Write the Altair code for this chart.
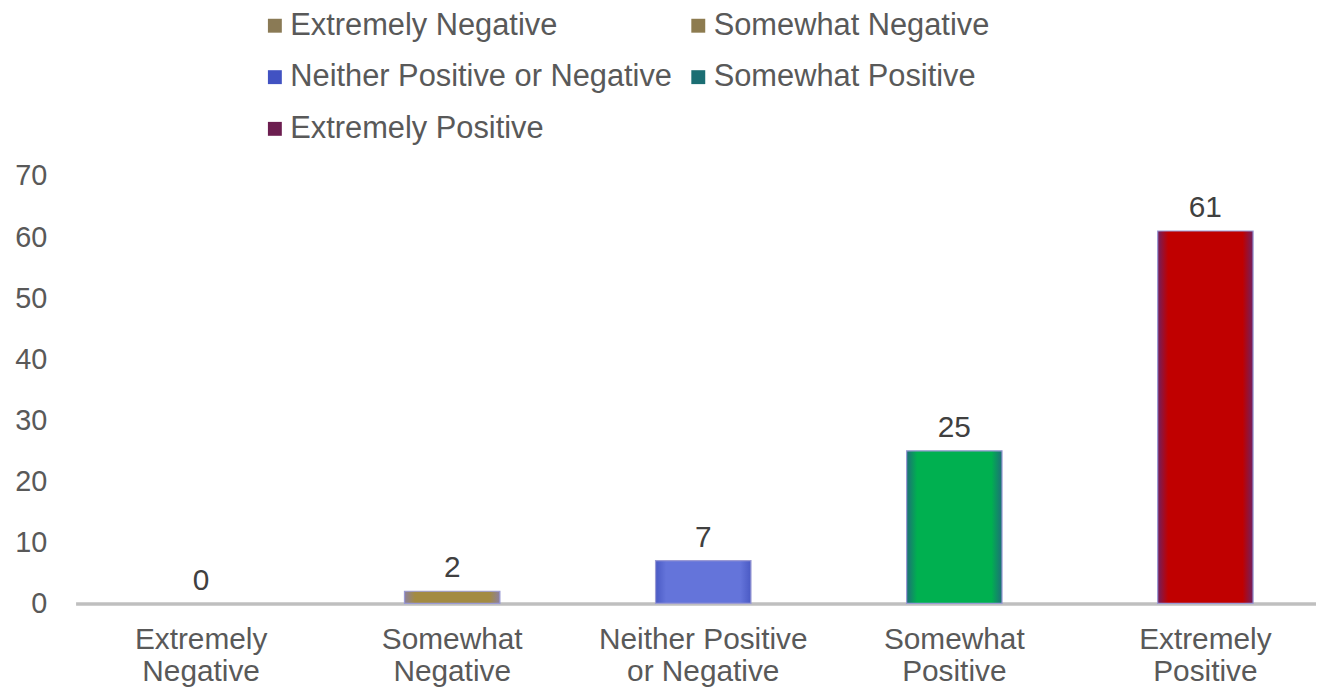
import altair as alt
import pandas as pd

categories = ["Extremely Negative", "Somewhat Negative", "Neither Positive or Negative",
              "Somewhat Positive", "Extremely Positive"]
axis_labels = ["Extremely|Negative", "Somewhat|Negative", "Neither Positive|or Negative",
               "Somewhat|Positive", "Extremely|Positive"]
values = [0, 2, 7, 25, 61]
bar_colors = ["#A38B42", "#A38B42", "#6474DA", "#00B050", "#C00000"]
legend_colors = ["#8A7A55", "#8D7B4F", "#4152C2", "#1B6E73", "#6C1E50"]
edge_colors = ["#8C80A0", "#8C80A0", "#4A5AC4", "#1E6E78", "#702060"]

df = pd.DataFrame({
    "category": categories,
    "xlabel": axis_labels,
    "value": values,
})

FONT = "Liberation Sans"
TXT = "#595959"

x_enc = alt.X("xlabel:N", sort=None, title=None,
              scale=alt.Scale(range=[0, 1263], paddingInner=0, paddingOuter=0),
              axis=alt.Axis(labelExpr="split(datum.label, '|')", labelAngle=0,
                            labelFontSize=30, labelFont=FONT, labelColor=TXT,
                            labelLineHeight=33, labelPadding=21, labelLimit=500,
                            ticks=False, domainColor="#BFBFBF", domainWidth=3.5,
                            grid=False))
y_enc = alt.Y("value:Q", title=None,
              scale=alt.Scale(domain=[0, 70], nice=False),
              axis=alt.Axis(values=[0, 10, 20, 30, 40, 50, 60, 70], labelFontSize=29,
                            labelFont=FONT, labelColor=TXT, labelPadding=29,
                            ticks=False, domain=False, grid=False))

base = alt.Chart(df)

bar_layers = []
for cat, c_center, c_edge in zip(categories, bar_colors, edge_colors):
    grad = alt.LinearGradient(
        gradient="linear", x1=0, y1=0, x2=1, y2=0,
        stops=[alt.GradientStop(offset=0, color=c_edge),
               alt.GradientStop(offset=0.11, color=c_center),
               alt.GradientStop(offset=0.89, color=c_center),
               alt.GradientStop(offset=1, color=c_edge)])
    bar_layers.append(
        base.transform_filter(alt.datum.category == cat)
        .mark_bar(size=96, fill=grad, stroke="#9A9AD4", strokeWidth=1.2)
        .encode(x=x_enc, y=y_enc,
                strokeOpacity=alt.condition("datum.value > 0", alt.value(1), alt.value(0)))
    )

legend_layer = base.mark_square(opacity=0, size=10).encode(
    x=x_enc, y=y_enc,
    color=alt.Color("category:N", sort=categories,
                    scale=alt.Scale(domain=categories, range=legend_colors),
                    legend=alt.Legend(title=None, orient="none", legendX=185, legendY=-167,
                                      direction="horizontal", columns=2, columnPadding=10,
                                      rowPadding=20, symbolType="square", symbolSize=196,
                                      symbolOpacity=1, symbolStrokeWidth=0,
                                      labelFontSize=31, labelFont=FONT, labelColor=TXT,
                                      labelOffset=0, labelLimit=600, padding=0)),
)

labels = base.mark_text(fontSize=30, font=FONT, color="#404040", baseline="alphabetic",
                        dy=-14).encode(
    x=x_enc, y=y_enc, text=alt.Text("value:Q"),
)

chart = alt.layer(*bar_layers, legend_layer, labels).properties(
    width=1248, height=430,
    autosize=alt.AutoSizeParams(type="none"),
    padding={"left": 68, "top": 167, "right": 0, "bottom": 84},
).configure_view(stroke=None)

chart.save("out.html", embed_options={"renderer": "svg", "actions": False})
